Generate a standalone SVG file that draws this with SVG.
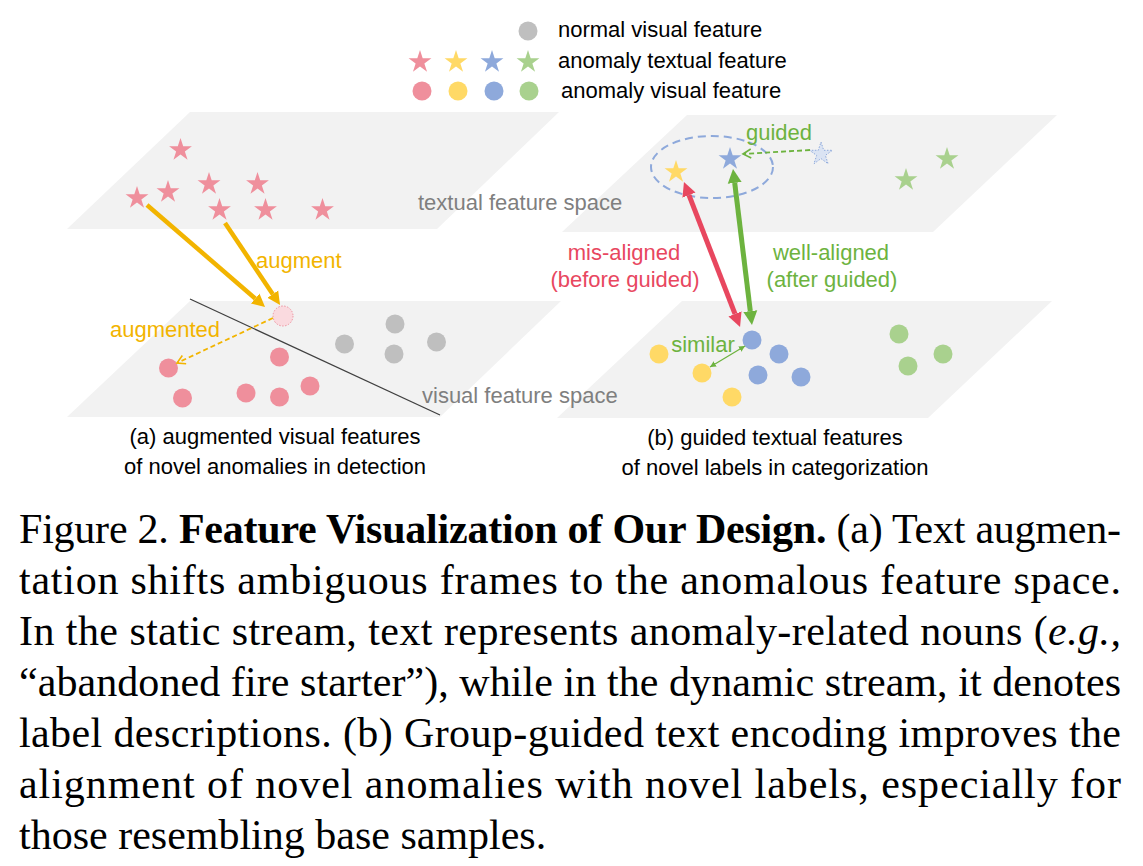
<svg xmlns="http://www.w3.org/2000/svg" width="1143" height="866" viewBox="0 0 1143 866">
<style>
.plane{fill:#F2F2F2}
.lbl{font-family:"Liberation Sans",Arial,sans-serif;font-size:22px}
.gray{fill:#7F7F7F}
.blk{fill:#000}
.gold{fill:#F2B400}
.red{fill:#E8475F}
.grn{fill:#6DB33F}
.cap{font-family:"Liberation Serif","Times New Roman",serif;font-size:42px;fill:#000}
.pk{fill:#EF8F9C}
.yl{fill:#FFD966}
.bl{fill:#8EA9DB}
.gn{fill:#A9D18E}
.gy{fill:#BFBFBF}
</style>
<defs>
<path id="star" d="M0,-12 L2.69,-3.71 L11.41,-3.71 L4.36,1.42 L7.05,9.71 L0,4.58 L-7.05,9.71 L-4.36,1.42 L-11.41,-3.71 L-2.69,-3.71 Z"/>
<marker id="hGold" markerUnits="userSpaceOnUse" markerWidth="16" markerHeight="16" viewBox="0 -8 16 16" refX="0" refY="0" orient="auto"><path d="M0,-6.5 L13,0 L0,6.5 Z" fill="#F2B400"/></marker>
<marker id="hRed" markerUnits="userSpaceOnUse" markerWidth="16" markerHeight="16" viewBox="0 -8 16 16" refX="0" refY="0" orient="auto-start-reverse"><path d="M0,-7 L14,0 L0,7 Z" fill="#E8475F"/></marker>
<marker id="hGrn" markerUnits="userSpaceOnUse" markerWidth="16" markerHeight="16" viewBox="0 -8 16 16" refX="0" refY="0" orient="auto-start-reverse"><path d="M0,-7 L14,0 L0,7 Z" fill="#6DB33F"/></marker>
<marker id="hGrnS" markerUnits="userSpaceOnUse" markerWidth="8" markerHeight="8" viewBox="0 -4 8 8" refX="6" refY="0" orient="auto-start-reverse"><path d="M0,-3 L6,0 L0,3 Z" fill="#6DB33F"/></marker>
<marker id="oGold" markerUnits="userSpaceOnUse" markerWidth="12" markerHeight="12" viewBox="-10 -6 12 12" refX="0" refY="0" orient="auto"><path d="M-8,-4.5 L0,0 L-8,4.5" fill="none" stroke="#F2B400" stroke-width="1.6"/></marker>
<marker id="oGrn" markerUnits="userSpaceOnUse" markerWidth="12" markerHeight="12" viewBox="-10 -6 12 12" refX="0" refY="0" orient="auto"><path d="M-8,-4.5 L0,0 L-8,4.5" fill="none" stroke="#6DB33F" stroke-width="1.6"/></marker>
</defs>
<rect width="1143" height="866" fill="#fff"/>

<g id="legend">
<circle cx="528" cy="31" r="9.5" class="gy"/>
<text x="558" y="37" class="lbl blk">normal visual feature</text>
<use href="#star" x="420" y="62" class="pk"/>
<use href="#star" x="456" y="62" class="yl"/>
<use href="#star" x="492" y="62" class="bl"/>
<use href="#star" x="528" y="62" class="gn"/>
<text x="558" y="68" class="lbl blk">anomaly textual feature</text>
<circle cx="422" cy="91" r="9.5" class="pk"/>
<circle cx="458" cy="91" r="9.5" class="yl"/>
<circle cx="494" cy="91" r="9.5" class="bl"/>
<circle cx="529" cy="91" r="9.5" class="gn"/>
<text x="561" y="98" class="lbl blk">anomaly visual feature</text>
</g>

<g id="planes">
<polygon class="plane" points="190,112 559,112 437,229 67,229"/>
<polygon class="plane" points="687,115 1057,115 933,232 562,232"/>
<polygon class="plane" points="190,301 561,301 440,417 67,417"/>
<polygon class="plane" points="682,301 1052,301 928,418 557,418"/>
<text x="418" y="210" class="lbl gray">textual feature space</text>
<text x="422" y="403" class="lbl gray">visual feature space</text>
</g>

<g id="panel-a">
<g id="a-text-stars" class="pk">
<use href="#star" x="180.5" y="150"/>
<use href="#star" x="137" y="198"/>
<use href="#star" x="168" y="192"/>
<use href="#star" x="209" y="184"/>
<use href="#star" x="257.5" y="184"/>
<use href="#star" x="219.5" y="210"/>
<use href="#star" x="265.5" y="210"/>
<use href="#star" x="322.5" y="210"/>
</g>
<line id="boundary" x1="190" y1="299" x2="440" y2="415" stroke="#404040" stroke-width="1.3"/>
<circle id="aug-point" cx="283" cy="316" r="10" fill="#FADADF" stroke="#EF8F9C" stroke-width="1" stroke-dasharray="1.5 1.5"/>
<g id="a-anom-dots" class="pk">
<circle cx="168.5" cy="368" r="9.5"/>
<circle cx="182.5" cy="398" r="9.5"/>
<circle cx="246" cy="393" r="9.5"/>
<circle cx="279.5" cy="397" r="9.5"/>
<circle cx="279.5" cy="357" r="9.5"/>
<circle cx="310" cy="386" r="9.5"/>
</g>
<g id="a-normal-dots" class="gy">
<circle cx="344.5" cy="344" r="9.5"/>
<circle cx="395" cy="324" r="9.5"/>
<circle cx="394" cy="354" r="9.5"/>
<circle cx="436.5" cy="342" r="9.5"/>
</g>
<text x="256" y="268" class="lbl gold">augment</text>
<text x="110" y="337" class="lbl gold">augmented</text>
<text x="275" y="444" class="lbl blk" text-anchor="middle">(a) augmented visual features</text>
<text x="275" y="474" class="lbl blk" text-anchor="middle">of novel anomalies in detection</text>
</g>

<g id="panel-b">
<ellipse id="group" cx="712" cy="167" rx="61" ry="31" fill="none" stroke="#8EA9DB" stroke-width="2" stroke-dasharray="8 5"/>
<use href="#star" x="676" y="172" class="yl"/>
<use href="#star" x="730" y="159" class="bl"/>
<use href="#star" x="821" y="154" fill="#DAE3F3" stroke="#8EA9DB" stroke-width="1" stroke-dasharray="1.5 1.5"/>
<use href="#star" x="906" y="180" class="gn"/>
<use href="#star" x="947" y="159" class="gn"/>
<g id="b-blue-dots" class="bl">
<circle cx="752" cy="340" r="9.5"/>
<circle cx="779" cy="354" r="9.5"/>
<circle cx="758" cy="375" r="9.5"/>
<circle cx="801" cy="377" r="9.5"/>
</g>
<g id="b-yellow-dots" class="yl">
<circle cx="659" cy="354" r="9.5"/>
<circle cx="702" cy="373" r="9.5"/>
<circle cx="732" cy="397" r="9.5"/>
</g>
<g id="b-green-dots" class="gn">
<circle cx="899" cy="334" r="9.5"/>
<circle cx="943" cy="354" r="9.5"/>
<circle cx="908" cy="366" r="9.5"/>
</g>
<text x="779" y="140" class="lbl grn" text-anchor="middle">guided</text>
<text x="624" y="260" class="lbl red" text-anchor="middle">mis-aligned</text>
<text x="625" y="287" class="lbl red" text-anchor="middle">(before guided)</text>
<text x="831" y="260" class="lbl grn" text-anchor="middle">well-aligned</text>
<text x="832" y="287" class="lbl grn" text-anchor="middle">(after guided)</text>
<text x="703" y="352" class="lbl grn" text-anchor="middle">similar</text>
<text x="775" y="445" class="lbl blk" text-anchor="middle">(b) guided textual features</text>
<text x="775" y="475" class="lbl blk" text-anchor="middle">of novel labels in categorization</text>
</g>

<g id="connectors" fill="none">
<line x1="147" y1="205" x2="255.2" y2="298.5" stroke="#F2B400" stroke-width="4.5" marker-end="url(#hGold)"/>
<line x1="225" y1="223" x2="272.8" y2="294.2" stroke="#F2B400" stroke-width="4.5" marker-end="url(#hGold)"/>
<line x1="273" y1="318" x2="177" y2="363" stroke="#F2B400" stroke-width="1.8" stroke-dasharray="5 3" marker-end="url(#oGold)"/>
<line x1="689" y1="195.1" x2="735" y2="313.9" stroke="#E8475F" stroke-width="5" marker-start="url(#hRed)" marker-end="url(#hRed)"/>
<line x1="734.7" y1="182.9" x2="750.3" y2="311.1" stroke="#6DB33F" stroke-width="5" marker-start="url(#hGrn)" marker-end="url(#hGrn)"/>
<line x1="810" y1="150" x2="743" y2="154" stroke="#6DB33F" stroke-width="1.8" stroke-dasharray="5 3" marker-end="url(#oGrn)"/>
<line x1="710" y1="367" x2="745" y2="346" stroke="#6DB33F" stroke-width="1.3" marker-start="url(#hGrnS)" marker-end="url(#hGrnS)"/>
</g>

<g id="caption">
<text x="19" y="543" class="cap" textLength="1102" lengthAdjust="spacing">Figure 2. <tspan font-weight="bold">Feature Visualization of Our Design.</tspan> (a) Text augmen-</text>
<text x="19" y="594" class="cap" textLength="1102" lengthAdjust="spacing">tation shifts ambiguous frames to the anomalous feature space.</text>
<text x="19" y="645" class="cap" textLength="1102" lengthAdjust="spacing">In the static stream, text represents anomaly-related nouns (<tspan font-style="italic">e.g.,</tspan></text>
<text x="19" y="696" class="cap" textLength="1102" lengthAdjust="spacing">“abandoned fire starter”), while in the dynamic stream, it denotes</text>
<text x="19" y="747" class="cap" textLength="1102" lengthAdjust="spacing">label descriptions.  (b) Group-guided text encoding improves the</text>
<text x="19" y="798" class="cap" textLength="1102" lengthAdjust="spacing">alignment of novel anomalies with novel labels, especially for</text>
<text x="19" y="849" class="cap">those resembling base samples.</text>
</g>
</svg>
